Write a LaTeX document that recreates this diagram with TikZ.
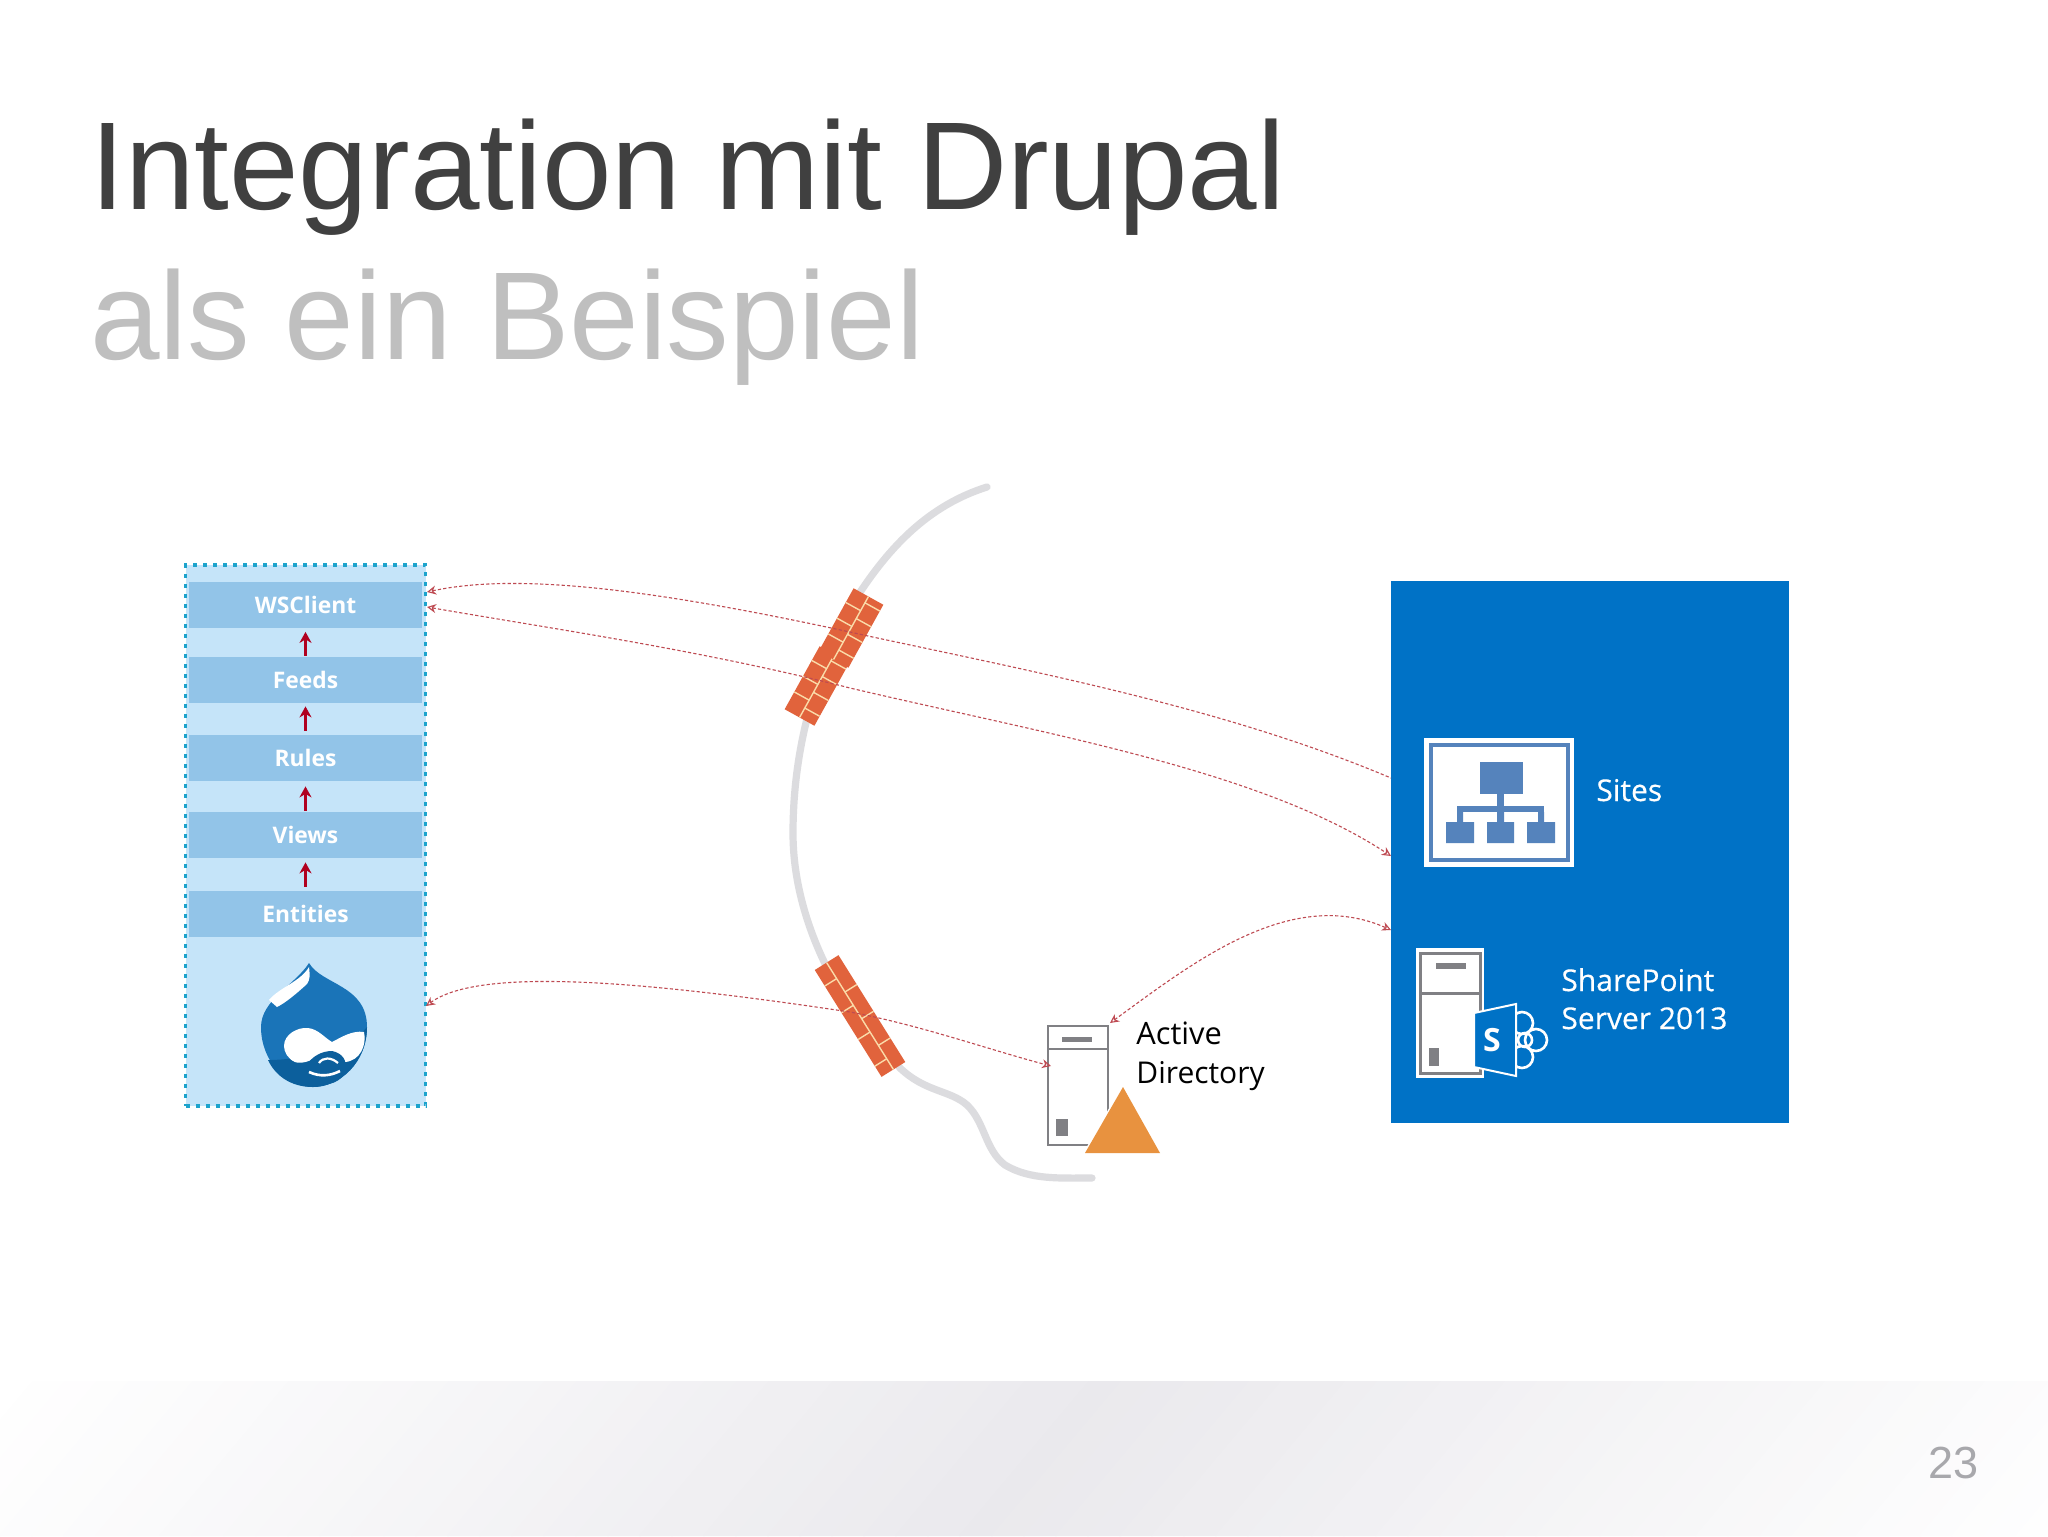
\documentclass[tikz,border=0pt]{standalone}
\usepackage{fontspec}
\setmainfont{Liberation Sans}
\newfontfamily\seg{Open Sans}
\newfontfamily\segm[FakeBold=0.35]{Open Sans}
\usetikzlibrary{arrows.meta,calc}
\definecolor{titledark}{HTML}{404040}
\definecolor{titlelight}{HTML}{BFBFBF}
\definecolor{pagenum}{HTML}{A8A8AC}
\definecolor{panelbg}{HTML}{C5E4F9}
\definecolor{rowbg}{HTML}{92C4E8}
\definecolor{panelline}{HTML}{1CA3CC}
\definecolor{spblue}{HTML}{0072C6}
\definecolor{sitesblue}{HTML}{5583BC}
\definecolor{srvgray}{HTML}{808084}
\definecolor{wallgray}{HTML}{DCDCDF}
\definecolor{brick}{HTML}{E1633C}
\definecolor{mortar}{HTML}{FADBA9}
\definecolor{adorange}{HTML}{E8923F}
\definecolor{linkred}{HTML}{BE4A52}
\definecolor{arrowred}{HTML}{B00020}
\definecolor{dropblue}{HTML}{1A74B8}
\definecolor{dropdark}{HTML}{0C5F9C}
\definecolor{footgray}{HTML}{EAE9ED}
\tikzset{
  titletext/.style={anchor=base west,inner sep=0pt,font=\fontsize{62.5}{70}\selectfont},
  rowbox/.style={fill=rowbg,minimum width=116.5pt,minimum height=23pt,inner sep=0pt,text=white,font=\seg\bfseries\fontsize{11.4}{14}\selectfont},
  uparrow/.style={draw=arrowred,line width=1.1pt,-{Stealth[length=5.5pt,width=6pt]}},
  linkcurve/.style={draw=linkred,line width=0.55pt,dash pattern=on 1.6pt off 1.1pt,{Stealth[length=4.5pt,width=4.5pt,open]}-{Stealth[length=4.5pt,width=4.5pt,open]}},
  leftonly/.style={draw=linkred,line width=0.55pt,dash pattern=on 1.6pt off 1.1pt,{Stealth[length=4.5pt,width=4.5pt,open]}-},
  labeltext/.style={anchor=base west,inner sep=0pt,font=\segm\fontsize{15}{18}\selectfont},
  srvframe/.style={draw=srvgray,line width=1.25pt,fill=white},
}
\newcommand{\brickwall}[5]{%
  \begin{scope}[shift={(#1,#2)},rotate=#3]
    \fill[brick] (-#4,-#5) rectangle (#4,#5);
    \draw[mortar,line width=0.7pt] (-#4,0) -- (#4,0);
    \foreach \u in {-0.7,-0.2,0.3,0.8}{\draw[mortar,line width=0.7pt] ({\u*#4},0) -- ({\u*#4},#5);}
    \foreach \u in {-0.45,0.05,0.55}{\draw[mortar,line width=0.7pt] ({\u*#4},0) -- ({\u*#4},-#5);}
  \end{scope}}
\begin{document}
\begin{tikzpicture}[x=0.5pt,y=-0.5pt]
\useasboundingbox (0,0) rectangle (2048,1536);
\fill[white] (0,0) rectangle (2048,1536);
% footer band, stepped gradient
\begin{scope}
  \clip (0,1381) rectangle (2048,1536);
  \foreach \i in {-4,...,68}{
    \pgfmathsetmacro{\xa}{\i*32}
    \pgfmathsetmacro{\xb}{\xa+34}
    \pgfmathsetmacro{\pct}{max(0,100*(1-abs(\xa+16-1045)/1100))}
    \fill[footgray!\pct!white] ({\xa+65},1381) -- ({\xb+65},1381) -- ({\xb-65},1536) -- ({\xa-65},1536) -- cycle;
  }
\end{scope}
\node[anchor=base east,inner sep=0pt,text=pagenum,font=\fontsize{22.5}{26}\selectfont] (pageno) at (1979,1478) {23};
% title
\node[titletext,text=titledark] (title) at (90,209) {Integration mit Drupal};
\node[titletext,text=titlelight] (subtitle) at (90,359) {als ein Beispiel};
% left panel
\node[fill=panelbg,draw=panelline,line width=1.8pt,dash pattern=on 2pt off 3pt,minimum width=120pt,minimum height=270.5pt,inner sep=0pt] (panel) at (305.5,835.5) {};
\node[rowbox] (wsclient) at (305.5,604.5) {WSClient};
\node[rowbox] (feeds) at (305.5,680) {Feeds};
\node[rowbox] (rules) at (305.5,758) {Rules};
\node[rowbox] (views) at (305.5,835) {Views};
\node[rowbox] (entities) at (305.5,914) {Entities};
\draw[uparrow] (entities.north) ++(0,-4) -- ($(views.south)+(0,4)$);
\draw[uparrow] (views.north) ++(0,-1) -- ($(rules.south)+(0,5)$);
\draw[uparrow] (rules.north) ++(0,-4) -- ($(feeds.south)+(0,3)$);
\draw[uparrow] (feeds.north) ++(0,-1) -- ($(wsclient.south)+(0,4)$);
% drupal drop
\fill[dropblue] (309,963) .. controls (322,985) and (367,985) .. (367,1027) .. controls (367,1062) and (340,1087) .. (313,1087) .. controls (285,1087) and (261,1060) .. (261,1027) .. controls (261,1000) and (295,985) .. (309,963) -- cycle;
\fill[dropdark] (367,1027) .. controls (367,1062) and (340,1087) .. (313,1087) .. controls (290,1087) and (275,1075) .. (268,1060) .. controls (300,1060) and (350,1050) .. (367,1027) -- cycle;
\fill[white] (269,1000) .. controls (280,987) and (300,982) .. (309,967) .. controls (310,975) and (310,980) .. (307,984) .. controls (295,995) and (285,1003) .. (277,1007) -- cycle;
\fill[white] (284,1046) .. controls (284,1034) and (298,1027) .. (308,1028) .. controls (318,1029) and (325,1038) .. (332,1042) .. controls (340,1038) and (352,1030) .. (364,1032) .. controls (367,1045) and (360,1061) .. (345,1062) .. controls (335,1062) and (328,1052) .. (320,1054) .. controls (312,1062) and (300,1064) .. (295,1062) .. controls (288,1059) and (284,1052) .. (284,1046) -- cycle;
\fill[dropdark] (306,1066) .. controls (312,1056) and (322,1051) .. (332,1051) .. controls (342,1053) and (348,1060) .. (345,1072) .. controls (340,1085) and (320,1088) .. (310,1080) -- cycle;
\draw[white,line width=1.1pt] (319,1063) .. controls (323,1057) and (331,1057) .. (338,1063);
\draw[white,line width=1.3pt] (309,1072) .. controls (320,1077) and (330,1076) .. (340,1071);
% firewall
\draw[wallgray,line width=3.6pt,line cap=round] (987,487) .. controls (930,505) and (890,545) .. (855,600) .. controls (820,660) and (793,740) .. (793,833) .. controls (793,900) and (820,960) .. (845,1000) -- (900,1068) .. controls (925,1092) and (950,1090) .. (967,1105) .. controls (985,1122) and (985,1150) .. (1005,1165) .. controls (1030,1180) and (1060,1178) .. (1092,1178);
% right panel
\node[fill=spblue,minimum width=199pt,minimum height=271pt,inner sep=0pt] (sp) at (1590,852) {};
% Sites icon
\node[fill=white,minimum width=75pt,minimum height=64.5pt,inner sep=0pt] (sitesicon) at (1499,802.5) {};
\draw[sitesblue,line width=2pt] (1431,745) rectangle (1568,860);
\fill[sitesblue] (1480,762) rectangle (1523,794);
\fill[sitesblue] (1497,794) rectangle (1504,807);
\fill[sitesblue] (1457,806) rectangle (1544,812);
\fill[sitesblue] (1457,812) rectangle (1463,823) (1497,812) rectangle (1504,823) (1538,812) rectangle (1544,823);
\fill[sitesblue] (1446,822) rectangle (1474,843) (1487,822) rectangle (1514,843) (1527,822) rectangle (1555,843);
\node[labeltext,text=white] (siteslabel) at (1596,801) {Sites};
% SharePoint server icon
\node[fill=white,minimum width=34pt,minimum height=65pt,inner sep=0pt] (spsrv) at (1450,1013) {};
\draw[srvgray,line width=1.5pt] (1420,953) rectangle (1480,1073);
\draw[srvgray,line width=1.5pt] (1420,993) -- (1480,993);
\fill[srvgray] (1436,963) rectangle (1466,969);
\fill[srvgray] (1429,1048) rectangle (1439,1066);
\draw[white,line width=1.3pt] (1522,1023) circle (11) (1536,1040) circle (11) (1522,1057) circle (11) (1525,1040) circle (7);
\fill[spblue,draw=white,line width=1pt] (1474,1013) -- (1516,1004) -- (1516,1076) -- (1474,1067) -- cycle;
\node[inner sep=0pt,text=white,font=\seg\bfseries\fontsize{16}{18}\selectfont] (sletter) at (1492,1040) {S};
\node[labeltext,text=white] (splabela) at (1561,991) {SharePoint};
\node[labeltext,text=white] (splabelb) at (1561,1029) {Server 2013};
% Active Directory
\node[srvframe,minimum width=30pt,minimum height=59.5pt,inner sep=0pt] (adsrv) at (1078,1085.5) {};
\draw[srvgray,line width=1.25pt] (1048,1049) -- (1108,1049);
\fill[srvgray] (1062,1037) rectangle (1092,1042);
\fill[srvgray] (1056,1119) rectangle (1068,1136);
\fill[adorange,draw=white,line width=1.5pt,line join=round] (1123,1087) -- (1160,1153) -- (1085,1153) -- cycle;
\fill[adorange] (1123,1087) -- (1160,1153) -- (1085,1153) -- cycle;
\node[anchor=base west,inner sep=0pt,text=black,font=\seg\fontsize{15.4}{18}\selectfont] (adlabela) at (1136,1044) {Active};
\node[anchor=base west,inner sep=0pt,text=black,font=\seg\fontsize{15}{18}\selectfont] (adlabelb) at (1136,1083) {Directory};
% bricks
\brickwall{817}{686}{61}{36}{17}
\brickwall{851}{628}{61}{36}{17}
\brickwall{860}{1016}{-58}{63}{14}
% connectors
\coordinate (wsa) at (427,592);
\coordinate (wsb) at (427,607);
\coordinate (dra) at (426,1006);
\coordinate (spa) at (1391,778);
\coordinate (spb) at (1391,856);
\coordinate (spc) at (1391,930);
\coordinate (ada) at (1051,1066);
\coordinate (adb) at (1110,1023);
\draw[leftonly] (wsa) .. controls (520,572) and (660,590) .. (868,636) .. controls (1050,675) and (1230,710) .. (spa);
\draw[linkcurve] (wsb) .. controls (560,630) and (700,650) .. (850,688) .. controls (1050,735) and (1260,770) .. (spb);
\draw[linkcurve] (dra) .. controls (480,966) and (650,982) .. (850,1012) .. controls (920,1025) and (990,1050) .. (ada);
\draw[linkcurve] (adb) .. controls (1190,965) and (1290,885) .. (spc);
\end{tikzpicture}
\end{document}
